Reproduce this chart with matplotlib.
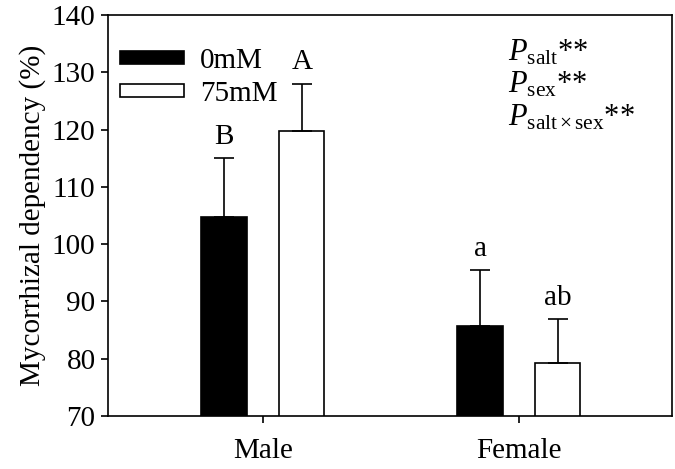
import matplotlib
matplotlib.use("Agg")
import matplotlib.pyplot as plt
import numpy as np

categories = ["Male", "Female"]
series_names = ["0mM", "75mM"]
vals_0mM = [104.8, 85.7]
vals_75mM = [119.8, 79.2]
err_0mM = [10.2, 9.7]
err_75mM = [8.2, 7.7]
letters_0mM = ["B", "a"]
letters_75mM = ["A", "ab"]
yticks = [70, 80, 90, 100, 110, 120, 130, 140]

plt.rcParams['font.family'] = ['Liberation Serif', 'DejaVu Serif']
plt.rcParams['mathtext.fontset'] = 'custom'
plt.rcParams['mathtext.rm'] = 'Liberation Serif'
plt.rcParams['mathtext.it'] = 'Liberation Serif:italic'
plt.rcParams['mathtext.bf'] = 'Liberation Serif:bold'

FS = 21
fig = plt.figure(figsize=(6.75, 4.69), dpi=100)
ax = fig.add_axes([0.16, 0.113, 0.8356, 0.855])

x = np.arange(len(categories))
w = 0.176
off = 0.152
ax.bar(x - off, vals_0mM, w, color='black', edgecolor='black', linewidth=1.2, label=series_names[0], zorder=2)
ax.bar(x + off, vals_75mM, w, color='white', edgecolor='black', linewidth=1.2, label=series_names[1], zorder=2)
ax.errorbar(x - off, vals_0mM, yerr=[np.zeros(2), err_0mM], fmt='none', ecolor='black', elinewidth=1.2, capsize=7, capthick=1.2, zorder=3)
ax.errorbar(x + off, vals_75mM, yerr=[np.zeros(2), err_75mM], fmt='none', ecolor='black', elinewidth=1.2, capsize=7, capthick=1.2, zorder=3)

for xi, v, e, t in zip(x - off, vals_0mM, err_0mM, letters_0mM):
    ax.annotate(t, (xi, v + e), xytext=(0, 6), textcoords='offset points', ha='center', va='bottom', fontsize=FS)
for xi, v, e, t in zip(x + off, vals_75mM, err_75mM, letters_75mM):
    ax.annotate(t, (xi, v + e), xytext=(0, 6), textcoords='offset points', ha='center', va='bottom', fontsize=FS)

ax.set_ylim(70, 140)
ax.set_xlim(-0.605, 1.598)
ax.set_yticks(yticks)
ax.set_xticks(x)
ax.set_xticklabels(categories)
ax.tick_params(axis='both', direction='out', length=5, width=1.2, labelsize=FS)
ax.tick_params(axis='y', pad=4)
ax.tick_params(axis='x', pad=11)
for s in ax.spines.values():
    s.set_linewidth(1.2)
ax.set_ylabel("Mycorrhizal dependency (%)", fontsize=FS, labelpad=4)

leg = ax.legend(loc='upper left', bbox_to_anchor=(-0.01, 0.962), frameon=False, fontsize=FS,
                handlelength=2.2, handleheight=0.32, handletextpad=0.55, labelspacing=0.25, borderaxespad=0.2)

ptexts = [r'$P_{\mathrm{salt}}$**', r'$P_{\mathrm{sex}}$**', r'$P_{\mathrm{salt\times sex}}$**']
for i, t in enumerate(ptexts):
    ax.text(0.71, 0.905 - i * 0.08, t, transform=ax.transAxes, fontsize=22, ha='left', va='center')

fig.savefig("out.png", dpi=100)
